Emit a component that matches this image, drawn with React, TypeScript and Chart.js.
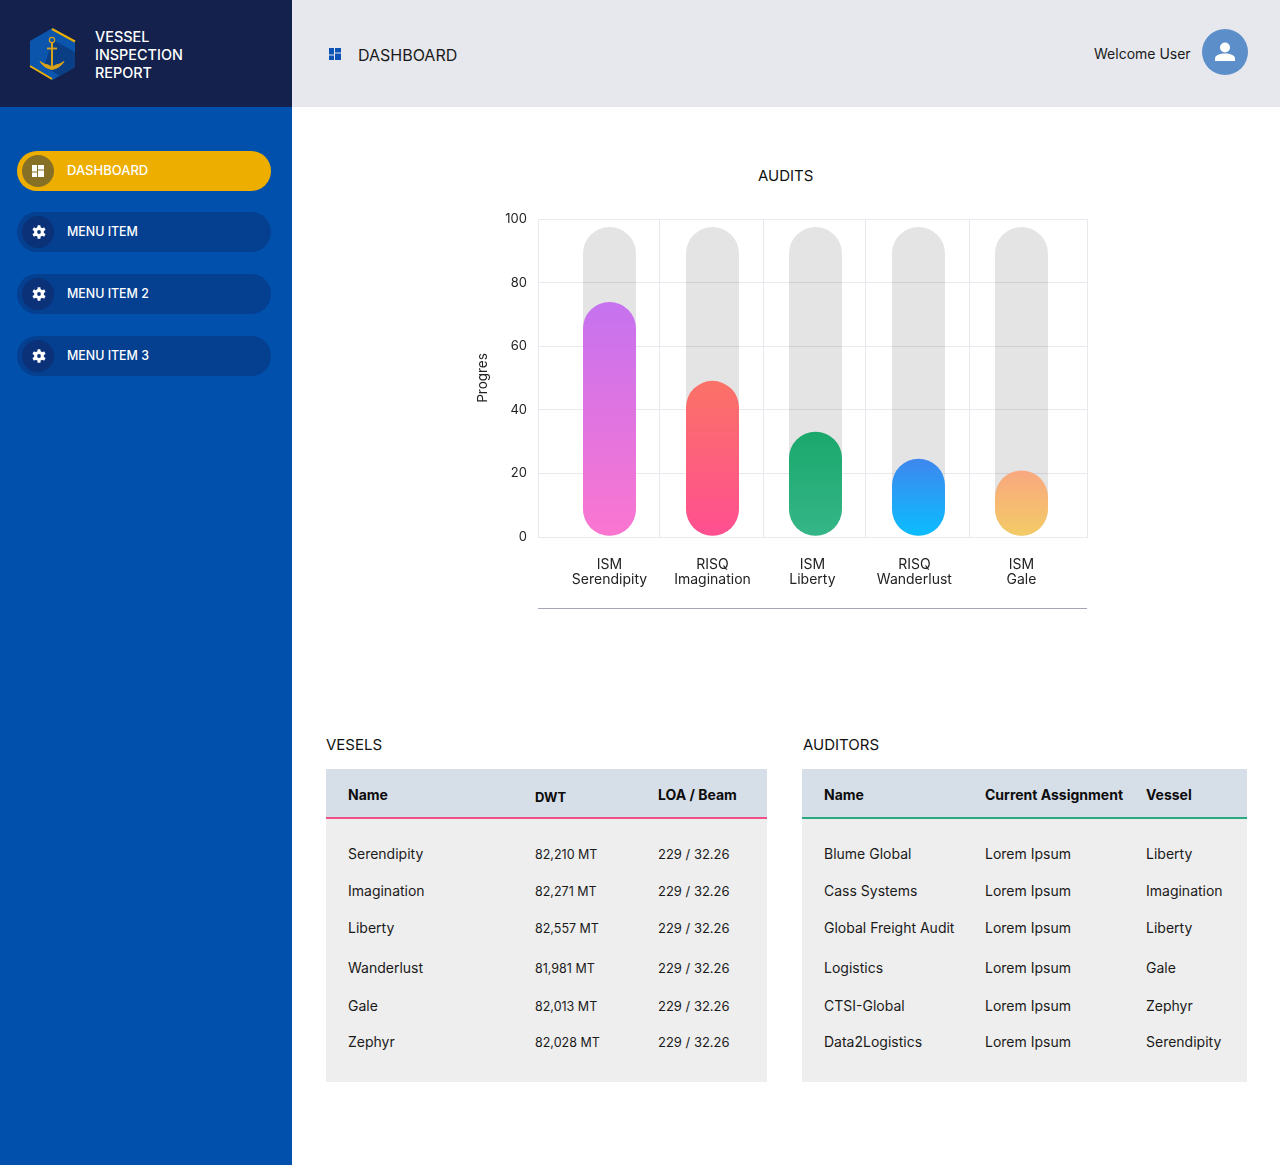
import React, { useEffect, useRef } from 'react';
import { Chart, registerables } from 'chart.js';

Chart.register(...registerables);

const FONT = 'Inter, "Noto Sans", sans-serif';

// chart data
const categories = ['ISM Serendipity', 'RISQ Imagination', 'ISM Liberty', 'RISQ Wanderlust', 'ISM Gale'];
const progress = [73.9, 49.1, 33.1, 24.6, 20.9];
const trackValues = [97.5, 97.5, 97.5, 97.5, 97.5];
const gradientTop = ['#c672f0', '#fb7267', '#1aa86c', '#3f87ee', '#f9a880'];
const gradientBottom = ['#fb76d0', '#ff4f91', '#35b688', '#0abdff', '#f3cb65'];
const yTicks = [0, 20, 40, 60, 80, 100];
// the x axis of the original is uneven, so labels and grid lines have their own stops
const labelStops = [0, 1, 1.97, 2.96, 4];
const gridStops = [-0.694, 0.485, 1.495, 2.485, 3.495, 4.636];

// tables
const vesselNames = ['Serendipity', 'Imagination', 'Liberty', 'Wanderlust', 'Gale', 'Zephyr'];
const vesselDwt = ['82,210 MT', '82,271 MT', '82,557 MT', '81,981 MT', '82,013 MT', '82,028 MT'];
const vesselLoa = ['229 / 32.26', '229 / 32.26', '229 / 32.26', '229 / 32.26', '229 / 32.26', '229 / 32.26'];
const auditorNames = ['Blume Global', 'Cass Systems', 'Global Freight Audit', 'Logistics', 'CTSI-Global', 'Data2Logistics'];
const auditorAssignments = ['Lorem Ipsum', 'Lorem Ipsum', 'Lorem Ipsum', 'Lorem Ipsum', 'Lorem Ipsum', 'Lorem Ipsum'];
const auditorVessels = ['Liberty', 'Imagination', 'Liberty', 'Gale', 'Zephyr', 'Serendipity'];
const rowCentres = [854, 891, 928, 968, 1006, 1042];

const menuItems = ['DASHBOARD', 'MENU ITEM', 'MENU ITEM 2', 'MENU ITEM 3'];
const menuTops = [151, 212, 274, 336];

const Text: React.FC<{ x: number; y: number; size?: number; weight?: number; color?: string; children: React.ReactNode }> = ({
  x,
  y,
  size = 14,
  weight = 400,
  color = '#1a1a1a',
  children,
}) => (
  <div
    style={{
      position: 'absolute',
      left: x,
      top: y,
      transform: 'translateY(-50%)',
      fontSize: size,
      fontWeight: weight,
      color,
      whiteSpace: 'nowrap',
      lineHeight: 1.2,
    }}
  >
    {children}
  </div>
);

const Box: React.FC<{ x: number; y: number; w: number; h: number; bg: string; r?: number }> = ({ x, y, w, h, bg, r = 0 }) => (
  <div style={{ position: 'absolute', left: x, top: y, width: w, height: h, background: bg, borderRadius: r }} />
);

const GridIcon: React.FC<{ x: number; y: number; color: string }> = ({ x, y, color }) => (
  <svg style={{ position: 'absolute', left: x, top: y }} width="12" height="12" viewBox="0 0 12 12">
    <rect x="0" y="0" width="5" height="6.5" fill={color} />
    <rect x="0" y="7.5" width="5" height="4.5" fill={color} />
    <rect x="6" y="0" width="6" height="4.5" fill={color} />
    <rect x="6" y="5.5" width="6" height="6.5" fill={color} />
  </svg>
);

const GearIcon: React.FC<{ x: number; y: number }> = ({ x, y }) => (
  <svg style={{ position: 'absolute', left: x, top: y }} width="14" height="14" viewBox="-7 -7 14 14">
    <circle r="4.9" fill="#fff" />
    {[0, 60, 120].map((a) => (
      <rect key={a} x="-1.5" y="-6.8" width="3" height="13.6" rx="0.6" fill="#fff" transform={`rotate(${a})`} />
    ))}
    <circle r="1.9" fill="#0b3278" />
  </svg>
);

const Logo: React.FC = () => (
  <svg style={{ position: 'absolute', left: 28, top: 26 }} width="50" height="56" viewBox="28 26 50 56">
    <polygon points="52.5,28 75,41 75,67 52.5,80 30,67 30,41" fill="#0c55ad" />
    <polygon points="53,40 75,52 75,67 60,76 44,66" fill="#0a3f86" />
    <line x1="52" y1="29" x2="75" y2="41.5" stroke="#edae00" strokeWidth="2" />
    <line x1="30" y1="66" x2="52" y2="79" stroke="#edae00" strokeWidth="2" />
    <circle cx="52" cy="40" r="2.6" fill="none" stroke="#d8a21a" strokeWidth="1.2" />
    <line x1="52" y1="43" x2="52" y2="68" stroke="#d8a21a" strokeWidth="2" />
    <line x1="47" y1="48.5" x2="57" y2="48.5" stroke="#d8a21a" strokeWidth="1.8" />
    <path d="M40 61.5 Q44 68 52 69.5 Q60 68 64 61.5 Q60 64.5 56 65 L52 67 L48 65 Q44 64.5 40 61.5Z" fill="#d8a21a" stroke="#d8a21a" />
  </svg>
);

const DataTable: React.FC<{
  x: number;
  w: number;
  accent: string;
  title: string;
  titleX: number;
  columns: { at: number; head: string; headY?: number; headSize?: number; cellSize?: number; cells: string[] }[];
}> = ({ x, w, accent, title, titleX, columns }) => (
  <>
    <Text x={titleX} y={745} size={15} color="#111">{title}</Text>
    <Box x={x} y={769} w={w} h={313} bg="#eeeeee" />
    <Box x={x} y={769} w={w} h={48} bg="#d6dee8" />
    <Box x={x} y={817} w={w} h={2} bg={accent} />
    {columns.map((col) => (
      <React.Fragment key={col.head}>
        <Text x={col.at} y={col.headY ?? 795} size={col.headSize ?? 14} weight={700} color="#0c0c0c">{col.head}</Text>
        {col.cells.map((cell, i) => (
          <Text key={i} x={col.at} y={rowCentres[i] + (col.cellSize === 13 ? 0.5 : 0)} size={col.cellSize ?? 14}>{cell}</Text>
        ))}
      </React.Fragment>
    ))}
  </>
);

const AuditsChart: React.FC = () => {
  const canvasRef = useRef<HTMLCanvasElement>(null);

  useEffect(() => {
    if (!canvasRef.current) return;
    const gridColor = '#e8e8ee';
    const tickColor = '#222';

    const chart = new Chart(canvasRef.current, {
      type: 'bar',
      data: {
        datasets: [
          {
            label: 'Progress',
            data: progress.map((y, x) => ({ x, y })),
            order: 1,
            base: 0.4,
            backgroundColor: (ctx: any) => {
              const i = ctx.dataIndex;
              // scales have no pixels yet on the first pass
              if (i === undefined || !ctx.chart.chartArea) return gradientTop[0];
              const y = ctx.chart.scales.y;
              const g = ctx.chart.ctx.createLinearGradient(0, y.getPixelForValue(progress[i]), 0, y.getPixelForValue(0.4));
              g.addColorStop(0, gradientTop[i]);
              g.addColorStop(1, gradientBottom[i]);
              return g;
            },
          },
          {
            label: 'Track',
            data: trackValues.map((y, x) => ({ x, y })),
            order: 2,
            base: 0.4,
            backgroundColor: 'rgba(0, 0, 0, 0.105)',
          },
        ],
      },
      options: {
        responsive: false,
        animation: false,
        layout: { padding: { top: 59, right: 14 } },
        datasets: {
          bar: {
            barThickness: 53,
            grouped: false,
            borderRadius: 27,
            borderSkipped: false,
            inflateAmount: 0,
          },
        },
        plugins: {
          legend: { display: false },
          tooltip: { enabled: false },
        },
        scales: {
          x: {
            type: 'linear',
            offset: false,
            min: gridStops[0],
            max: gridStops[gridStops.length - 1],
            afterBuildTicks: (axis: any) => {
              axis.ticks = [...gridStops, ...labelStops].sort((a, b) => a - b).map((value) => ({ value }));
            },
            afterFit: (axis: any) => {
              axis.height = 63;
              axis.paddingLeft = 0;
              axis.paddingRight = 0;
            },
            border: { color: gridColor },
            grid: {
              offset: false,
              drawTicks: false,
              color: (ctx: any) => (gridStops.includes(ctx.tick?.value) ? gridColor : 'transparent'),
            },
            ticks: {
              autoSkip: false,
              maxRotation: 0,
              minRotation: 0,
              padding: 20,
              color: tickColor,
              font: { family: FONT, size: 14, lineHeight: 1.1 },
              callback: (value: any) => {
                const i = labelStops.indexOf(value);
                return i >= 0 ? categories[i].split(' ') : '';
              },
            },
          },
          y: {
            min: 0,
            max: 100,
            afterBuildTicks: (axis: any) => {
              axis.ticks = yTicks.map((value) => ({ value }));
            },
            afterFit: (axis: any) => {
              axis.width = 68;
            },
            border: { color: gridColor },
            grid: { drawTicks: false, color: gridColor },
            title: {
              display: true,
              text: 'Progres',
              color: tickColor,
              font: { family: FONT, size: 13.5 },
              padding: { top: 5, bottom: 0 },
            },
            ticks: {
              padding: 11,
              color: tickColor,
              font: { family: FONT, size: 13 },
            },
          },
        },
      } as any,
    });

    return () => {
      chart.destroy();
    };
  }, []);

  return <canvas ref={canvasRef} width={631} height={440} style={{ position: 'absolute', left: 470, top: 160 }} />;
};

export default function App() {
  return (
    <div
      style={{
        position: 'absolute',
        left: 0,
        top: 0,
        width: 1280,
        height: 1165,
        overflow: 'hidden',
        background: '#fff',
        fontFamily: FONT,
      }}
    >
      <Box x={0} y={0} w={292} h={1165} bg="#0050ac" />
      <Box x={0} y={0} w={292} h={107} bg="#14214d" />
      <Box x={292} y={0} w={988} h={107} bg="#e6e8ed" />

      <Logo />
      <Text x={95} y={37} size={14.4} weight={500} color="#fff">VESSEL</Text>
      <Text x={95} y={55} size={14.4} weight={500} color="#fff">INSPECTION</Text>
      <Text x={95} y={73} size={14.4} weight={500} color="#fff">REPORT</Text>

      {menuItems.map((item, i) => (
        <React.Fragment key={item}>
          <Box x={17} y={menuTops[i]} w={254} h={40} r={20} bg={i === 0 ? '#edae00' : '#053f90'} />
          <Box x={22} y={menuTops[i] + 4} w={32} h={32} r={16} bg={i === 0 ? '#857025' : '#0b3278'} />
          {i === 0 ? <GridIcon x={32} y={menuTops[i] + 14} color="#fff" /> : <GearIcon x={32} y={menuTops[i] + 13} />}
          <Text x={67} y={menuTops[i] + 19.5} size={i === 0 ? 13 : 12.4} weight={500} color="#fff">{item}</Text>
        </React.Fragment>
      ))}

      <GridIcon x={329} y={48} color="#0d52b5" />
      <Text x={358} y={56} size={16} color="#1a1a1a">DASHBOARD</Text>
      <Text x={1094} y={54} color="#1a1a1a">Welcome User</Text>
      <Box x={1202} y={29} w={46} h={46} r={23} bg="#5c8ec9" />
      <svg style={{ position: 'absolute', left: 1214, top: 41 }} width="22" height="22" viewBox="0 0 22 22">
        <circle cx="11" cy="6.5" r="5" fill="#fff" />
        <path d="M1 20 V17.5 C1 14 6 12.5 11 12.5 C16 12.5 21 14 21 17.5 V20Z" fill="#fff" />
      </svg>

      <Text x={758} y={176} size={15} color="#111">AUDITS</Text>
      <AuditsChart />
      <Box x={538} y={608} w={549} h={1} bg="#a8a4b8" />

      <DataTable
        x={326}
        w={441}
        accent="#ef5088"
        title="VESELS"
        titleX={326}
        columns={[
          { at: 348, head: 'Name', cells: vesselNames },
          { at: 535, head: 'DWT', headY: 798, headSize: 13, cellSize: 12.5, cells: vesselDwt },
          { at: 658, head: 'LOA / Beam', cellSize: 13, cells: vesselLoa },
        ]}
      />
      <DataTable
        x={802}
        w={445}
        accent="#2baa7f"
        title="AUDITORS"
        titleX={803}
        columns={[
          { at: 824, head: 'Name', cells: auditorNames },
          { at: 985, head: 'Current Assignment', cells: auditorAssignments },
          { at: 1146, head: 'Vessel', cells: auditorVessels },
        ]}
      />
    </div>
  );
}
